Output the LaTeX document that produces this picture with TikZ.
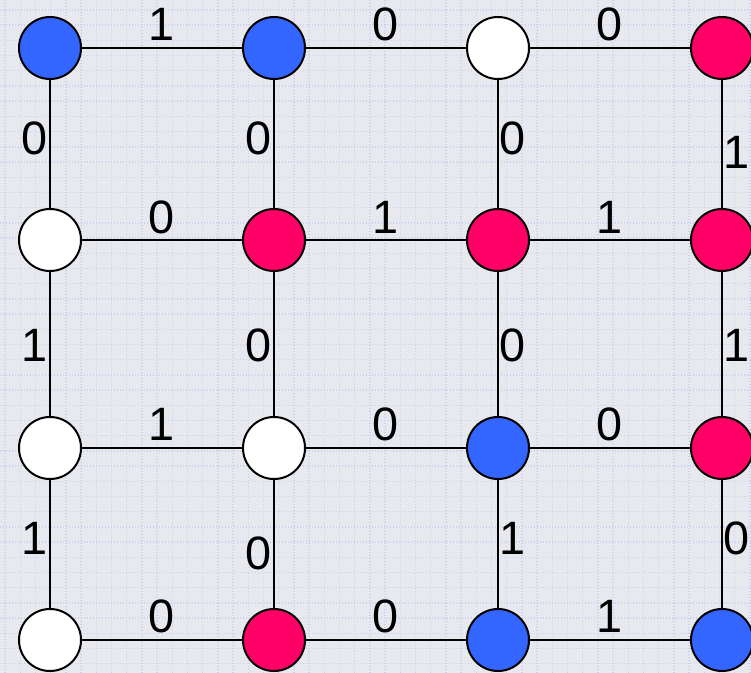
\documentclass[tikz,border=0pt]{standalone}
\usepackage{fontspec}
\setmainfont{Liberation Sans}
\definecolor{bg}{HTML}{E8E9EF}
\definecolor{gridc}{HTML}{C8D2EC}
\definecolor{nblue}{HTML}{3366FF}
\definecolor{nred}{HTML}{FF0066}
\tikzset{
  vtx/.style={circle, draw=black, line width=2bp, minimum size=62bp, inner sep=0pt},
  bluev/.style={vtx, fill=nblue},
  redv/.style={vtx, fill=nred},
  whitev/.style={vtx, fill=white},
  edgeline/.style={line width=2bp, black},
  lbl/.style={font=\fontsize{47}{47}\selectfont, inner sep=0pt, text=black},
  gridline/.style={gridc, line width=1.4bp, dash pattern=on 1.4bp off 1.6bp}
}
\begin{document}
\begin{tikzpicture}[x=1bp, y=-1bp]
\fill[bg] (0,0) rectangle (751,673);
\useasboundingbox (0,0) rectangle (751,673);
\foreach \i in {0,...,49} {
  \draw[gridline] ({5+15.2*\i},0) -- ({5+15.2*\i},673);
}
\foreach \j in {0,...,44} {
  \draw[gridline] (0,{10+15.2*\j}) -- (751,{10+15.2*\j});
}
% vertices
\node[bluev]  (a00) at (50,48) {};
\node[bluev]  (a01) at (274,48) {};
\node[whitev] (a02) at (498,48) {};
\node[redv]   (a03) at (722,48) {};
\node[whitev] (a10) at (50,240) {};
\node[redv]   (a11) at (274,240) {};
\node[redv]   (a12) at (498,240) {};
\node[redv]   (a13) at (722,240) {};
\node[whitev] (a20) at (50,448) {};
\node[whitev] (a21) at (274,448) {};
\node[bluev]  (a22) at (498,448) {};
\node[redv]   (a23) at (722,448) {};
\node[whitev] (a30) at (50,640) {};
\node[redv]   (a31) at (274,640) {};
\node[bluev]  (a32) at (498,640) {};
\node[bluev]  (a33) at (722,640) {};
% edges
\foreach \r in {0,1,2,3} {
  \draw[edgeline] (a\r0) -- (a\r1);
  \draw[edgeline] (a\r1) -- (a\r2);
  \draw[edgeline] (a\r2) -- (a\r3);
}
\foreach \c in {0,1,2,3} {
  \draw[edgeline] (a0\c) -- (a1\c);
  \draw[edgeline] (a1\c) -- (a2\c);
  \draw[edgeline] (a2\c) -- (a3\c);
}
% horizontal labels
\node[lbl] (h00) at (162,24) {1};
\node[lbl] (h01) at (386,24) {0};
\node[lbl] (h02) at (610,24) {0};
\node[lbl] (h10) at (162,217) {0};
\node[lbl] (h11) at (386,217) {1};
\node[lbl] (h12) at (610,217) {1};
\node[lbl] (h20) at (162,424) {1};
\node[lbl] (h21) at (386,424) {0};
\node[lbl] (h22) at (610,424) {0};
\node[lbl] (h30) at (162,616) {0};
\node[lbl] (h31) at (386,616) {0};
\node[lbl] (h32) at (610,616) {1};
% vertical labels
\node[lbl] (v00) at (35,138) {0};
\node[lbl] (v10) at (35,345) {1};
\node[lbl] (v20) at (35,538) {1};
\node[lbl] (v01) at (259,138) {0};
\node[lbl] (v11) at (259,345) {0};
\node[lbl] (v21) at (259,553) {0};
\node[lbl] (v02) at (513,138) {0};
\node[lbl] (v12) at (513,345) {0};
\node[lbl] (v22) at (513,538) {1};
\node[lbl] (v03) at (737,152) {1};
\node[lbl] (v13) at (737,345) {1};
\node[lbl] (v23) at (737,538) {0};
\end{tikzpicture}
\end{document}
